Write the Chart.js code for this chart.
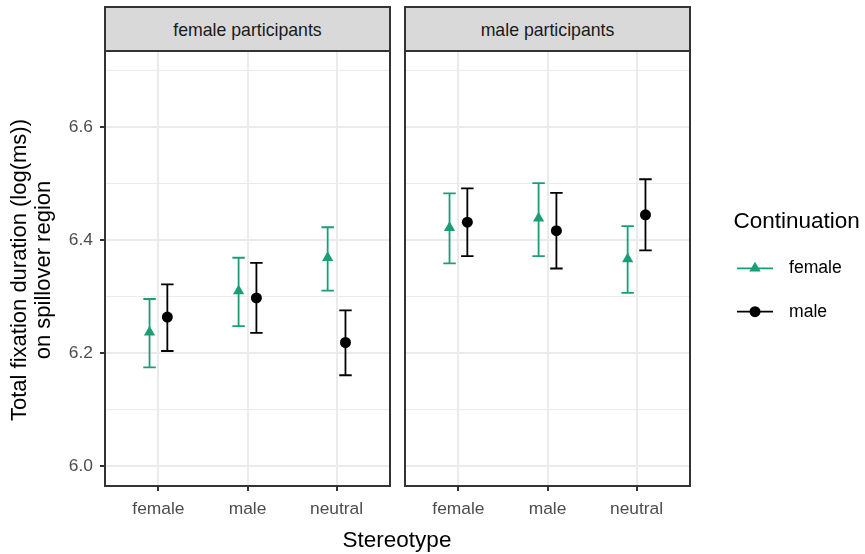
<!DOCTYPE html>
<html>
<head>
<meta charset="utf-8">
<script src="https://cdn.jsdelivr.net/npm/chart.js@4.4.0/dist/chart.umd.min.js"></script>
<style>
  html, body { margin: 0; padding: 0; background: #ffffff; }
  #wrap { position: relative; width: 865px; height: 554px; overflow: hidden;
          font-family: "Liberation Sans", Arial, Helvetica, sans-serif; }
  canvas { position: absolute; top: 0; }
  .strip { position: absolute; box-sizing: border-box; background: #d9d9d9;
           border: 2px solid #333333; color: #1a1a1a; font-size: 17.7px;
           line-height: 45px; text-align: center; white-space: nowrap; }
  .txt { position: absolute; white-space: nowrap; color: #000; }
</style>
</head>
<body>
<div id="wrap">
  <canvas id="c1" width="400" height="554" style="left:0px;width:400px;height:554px"></canvas>
  <canvas id="c2" width="473" height="554" style="left:392px;width:473px;height:554px"></canvas>
  <div class="strip" id="s1" style="left:104px;top:6px;width:287px;height:46px"></div>
  <div class="strip" id="s2" style="left:404px;top:6px;width:287px;height:46px"></div>
  <div class="txt" id="ytitle" style="left:-169px;top:246px;width:400px;height:48px;font-size:22px;line-height:24px;text-align:center;transform:rotate(-90deg);transform-origin:50% 50%"></div>
  <div class="txt" id="xtitle" style="left:297px;top:529.2px;width:200px;font-size:22.5px;line-height:22.5px;text-align:center"></div>
  <div class="txt" id="legtitle" style="left:733.5px;top:210px;font-size:22.5px;line-height:22.5px"></div>
  <svg style="position:absolute;left:735px;top:258px" width="40" height="20">
    <line x1="2" y1="10.3" x2="38" y2="10.3" stroke="#1b9e77" stroke-width="1.8"/>
    <polygon points="20,3.7 25.7,13.55 14.3,13.55" fill="#1b9e77"/>
  </svg>
  <svg style="position:absolute;left:735px;top:302px" width="40" height="20">
    <line x1="2" y1="9.7" x2="38" y2="9.7" stroke="#000000" stroke-width="1.8"/>
    <circle cx="20" cy="9.7" r="5.5" fill="#000000"/>
  </svg>
  <div class="txt" id="leg1" style="left:789px;top:259.2px;font-size:17.6px;line-height:17.6px"></div>
  <div class="txt" id="leg2" style="left:789px;top:302.5px;font-size:17.6px;line-height:17.6px"></div>
</div>
<script>
// ---------------- data ----------------
const stereotypes = ['female', 'male', 'neutral'];
const panelTitles = ['female participants', 'male participants'];
const continuationLabels = ['female', 'male'];
const legendTitle = 'Continuation';
const xTitle = 'Stereotype';
const yTitleLines = ['Total fixation duration (log(ms))', 'on spillover region'];
const yTickValues = [6.0, 6.1, 6.2, 6.3, 6.4, 6.5, 6.6, 6.7];
const yLimits = [5.965, 6.735];

// female participants
const fpFemaleMean = [6.237, 6.310, 6.369];
const fpFemaleLow  = [6.175, 6.248, 6.311];
const fpFemaleHigh = [6.296, 6.369, 6.423];
const fpMaleMean   = [6.264, 6.298, 6.219];
const fpMaleLow    = [6.204, 6.236, 6.161];
const fpMaleHigh   = [6.322, 6.360, 6.276];
// male participants
const mpFemaleMean = [6.422, 6.439, 6.367];
const mpFemaleLow  = [6.359, 6.372, 6.307];
const mpFemaleHigh = [6.483, 6.501, 6.425];
const mpMaleMean   = [6.432, 6.417, 6.445];
const mpMaleLow    = [6.372, 6.350, 6.382];
const mpMaleHigh   = [6.492, 6.484, 6.508];

// ---------------- style ----------------
const GREEN = '#1b9e77';
const BLACK = '#000000';
const DODGE = 0.1;
const CAP_HALF = 0.07;

document.getElementById('s1').textContent = panelTitles[0];
document.getElementById('s2').textContent = panelTitles[1];
document.getElementById('ytitle').innerHTML = yTitleLines.join('<br>');
document.getElementById('xtitle').textContent = xTitle;
document.getElementById('legtitle').textContent = legendTitle;
document.getElementById('leg1').textContent = continuationLabels[0];
document.getElementById('leg2').textContent = continuationLabels[1];

Chart.defaults.font.family = '"Liberation Sans", Arial, Helvetica, sans-serif';

const isMajor = v => Math.round(v * 10) % 2 === 0;

const errorBarPlugin = {
  id: 'errorBars',
  beforeDatasetsDraw(chart) {
    const { ctx } = chart;
    const xs = chart.scales.x, ys = chart.scales.y;
    chart.data.datasets.forEach(ds => {
      ctx.save();
      ctx.strokeStyle = ds.backgroundColor;
      ctx.lineWidth = 1.8;
      ds.data.forEach((pt, i) => {
        const px = xs.getPixelForValue(pt.x);
        const x0 = xs.getPixelForValue(pt.x - CAP_HALF);
        const x1 = xs.getPixelForValue(pt.x + CAP_HALF);
        const yl = ys.getPixelForValue(ds.errLow[i]);
        const yh = ys.getPixelForValue(ds.errHigh[i]);
        ctx.beginPath();
        ctx.moveTo(px, yl); ctx.lineTo(px, yh);
        ctx.moveTo(x0, yl); ctx.lineTo(x1, yl);
        ctx.moveTo(x0, yh); ctx.lineTo(x1, yh);
        ctx.stroke();
      });
      ctx.restore();
    });
  },
  afterDraw(chart) {
    const { ctx, chartArea: a } = chart;
    ctx.save();
    ctx.strokeStyle = '#333333';
    ctx.lineWidth = 2;
    ctx.strokeRect(a.left, a.top, a.right - a.left, a.bottom - a.top);
    ctx.restore();
  }
};

function makeDataset(label, means, lows, highs, color, style, radius, offset) {
  return {
    label,
    data: stereotypes.map((s, i) => ({ x: i + 1 + offset, y: means[i] })),
    errLow: lows,
    errHigh: highs,
    backgroundColor: color,
    borderColor: color,
    borderWidth: 0,
    pointStyle: style,
    pointRadius: radius,
    pointHoverRadius: radius,
    showLine: false
  };
}

function makeChart(id, datasets, showY, padding, target) {
  const chart = new Chart(document.getElementById(id), {
    type: 'scatter',
    data: { datasets },
    plugins: [errorBarPlugin],
    options: {
      responsive: false,
      animation: false,
      devicePixelRatio: 1,
      events: [],
      layout: { padding },
      plugins: { legend: { display: false }, tooltip: { enabled: false }, title: { display: false } },
      scales: {
        x: {
          type: 'linear',
          min: 0.4, max: 3.6,
          afterBuildTicks: s => { s.ticks = stereotypes.map((_, i) => ({ value: i + 1 })); },
          afterFit: s => { s.height = 68; s.paddingLeft = 0; s.paddingRight = 0; },
          ticks: {
            callback: v => stereotypes[Math.round(v) - 1],
            color: '#4d4d4d',
            font: { size: 17.4 },
            padding: 8,
            maxRotation: 0, autoSkip: false
          },
          grid: { color: '#ebebeb', lineWidth: 2, tickLength: 5, tickColor: '#333333', tickWidth: 2 },
          border: { display: false }
        },
        y: {
          type: 'linear',
          min: yLimits[0], max: yLimits[1],
          afterBuildTicks: s => { s.ticks = yTickValues.map(v => ({ value: v })); },
          afterFit: s => { s.width = showY ? 105 : 0; s.paddingTop = 0; s.paddingBottom = 0; },
          ticks: {
            display: showY,
            callback: v => isMajor(v) ? v.toFixed(1) : '',
            color: '#4d4d4d',
            font: { size: 17.4 },
            padding: 7,
            autoSkip: false
          },
          grid: {
            color: '#ebebeb',
            lineWidth: c => (c.tick && isMajor(c.tick.value)) ? 2 : 1,
            drawTicks: showY,
            tickLength: 5,
            tickWidth: 2,
            tickColor: c => (c.tick && isMajor(c.tick.value)) ? '#333333' : 'rgba(0,0,0,0)'
          },
          border: { display: false }
        }
      }
    }
  });
  // make sure the plotting area lands exactly on the intended panel box
  for (let k = 0; k < 3; k++) {
    const a = chart.chartArea;
    const dr = a.right - target.right, dl = target.left - a.left;
    if (Math.abs(dr) < 0.5 && Math.abs(dl) < 0.5) break;
    chart.options.layout.padding.right += dr;
    chart.options.layout.padding.left += dl;
    chart.update();
  }
  return chart;
}

makeChart('c1', [
  makeDataset(continuationLabels[0], fpFemaleMean, fpFemaleLow, fpFemaleHigh, GREEN, 'triangle', 6.5, -DODGE),
  makeDataset(continuationLabels[1], fpMaleMean, fpMaleLow, fpMaleHigh, BLACK, 'circle', 5.5, DODGE)
], true, { left: 0, top: 51, right: 10, bottom: 0 }, { left: 105, right: 390 });

makeChart('c2', [
  makeDataset(continuationLabels[0], mpFemaleMean, mpFemaleLow, mpFemaleHigh, GREEN, 'triangle', 6.5, -DODGE),
  makeDataset(continuationLabels[1], mpMaleMean, mpMaleLow, mpMaleHigh, BLACK, 'circle', 5.5, DODGE)
], false, { left: 13, top: 51, right: 175, bottom: 0 }, { left: 13, right: 298 });
</script>
</body>
</html>
